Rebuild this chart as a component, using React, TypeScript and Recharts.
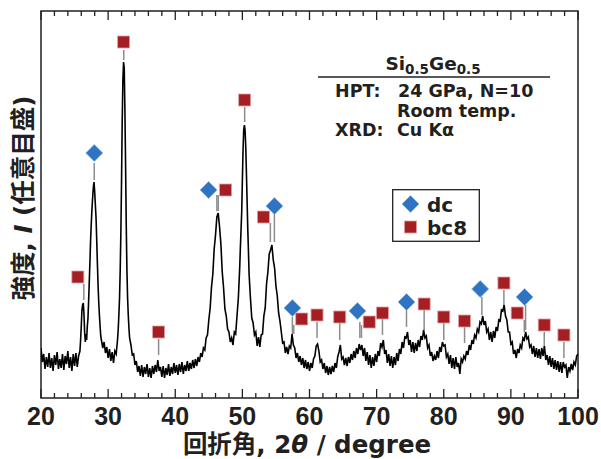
import React from 'react';
import {
  ComposedChart,
  Line,
  Scatter,
  XAxis,
  YAxis,
  ReferenceLine,
  ReferenceArea,
  Legend,
  Customized,
} from 'recharts';

const TICK_FONT = '"Liberation Sans", Arial, sans-serif';
const FONT = '"DejaVu Sans", "Noto Sans CJK JP", sans-serif';
const INK = '#231f20';
const RED = '#a51e24';
const BLUE = '#2f74c2';

// XRD scan: [2θ (deg), intensity (arb. units)]
const scan: [number, number][] = [
  [20.0, 50], [20.2, 36], [20.4, 44], [20.6, 29], [20.8, 41], [21.0, 31], [21.2, 45], [21.4, 30],
  [21.6, 40], [21.8, 27], [22.0, 43], [22.2, 33], [22.4, 46], [22.6, 29], [22.8, 39], [23.0, 30],
  [23.2, 44], [23.4, 28], [23.6, 42], [23.8, 34], [24.0, 47], [24.2, 30], [24.4, 41], [24.6, 27],
  [24.8, 44], [25.0, 32], [25.2, 45], [25.4, 31], [25.6, 42], [25.8, 47], [25.9, 58], [26.0, 72],
  [26.1, 88], [26.2, 93], [26.3, 95], [26.4, 84], [26.5, 66], [26.6, 56], [26.7, 64], [26.8, 58],
  [26.9, 72], [27.0, 80], [27.1, 98], [27.2, 118], [27.3, 138], [27.4, 160], [27.5, 176], [27.6, 190],
  [27.7, 201], [27.8, 211], [27.9, 216], [28.0, 206], [28.1, 193], [28.2, 180], [28.3, 158], [28.4, 135],
  [28.5, 113], [28.6, 96], [28.7, 83], [28.8, 72], [28.9, 62], [29.0, 58], [29.2, 50], [29.4, 56],
  [29.6, 45], [29.8, 51], [30.0, 40], [30.2, 49], [30.4, 37], [30.6, 46], [30.8, 35], [31.0, 47],
  [31.2, 44], [31.4, 58], [31.5, 68], [31.6, 83], [31.7, 100], [31.8, 128], [31.9, 166], [32.0, 218],
  [32.1, 278], [32.2, 318], [32.3, 336], [32.4, 330], [32.5, 288], [32.6, 233], [32.7, 173], [32.8, 128],
  [32.9, 100], [33.0, 83], [33.1, 70], [33.2, 60], [33.4, 53], [33.6, 43], [33.8, 44], [34.0, 33],
  [34.2, 37], [34.4, 26], [34.6, 32], [34.8, 22], [35.0, 33], [35.2, 21], [35.4, 31], [35.6, 24],
  [35.8, 34], [36.0, 21], [36.2, 30], [36.4, 20], [36.6, 32], [36.8, 24], [37.0, 33], [37.2, 26],
  [37.4, 38], [37.6, 27], [37.8, 31], [38.0, 21], [38.2, 32], [38.4, 20], [38.6, 30], [38.8, 23],
  [39.0, 34], [39.2, 22], [39.4, 31], [39.6, 24], [39.8, 35], [40.0, 25], [40.2, 33], [40.4, 23],
  [40.6, 34], [40.8, 26], [41.0, 36], [41.2, 24], [41.4, 33], [41.6, 27], [41.8, 37], [42.0, 27],
  [42.2, 35], [42.4, 29], [42.6, 38], [42.8, 30], [43.0, 39], [43.2, 32], [43.4, 41], [43.6, 36],
  [43.8, 45], [44.0, 41], [44.2, 50], [44.4, 48], [44.6, 60], [44.8, 63], [45.0, 78], [45.2, 90],
  [45.4, 111], [45.6, 124], [45.8, 149], [46.0, 163], [46.2, 181], [46.4, 185], [46.6, 171], [46.8, 154],
  [47.0, 126], [47.2, 110], [47.4, 89], [47.6, 82], [47.8, 69], [48.0, 66], [48.2, 56], [48.4, 60],
  [48.6, 53], [48.8, 66], [49.0, 64], [49.2, 82], [49.4, 100], [49.6, 130], [49.7, 150], [49.8, 168],
  [49.9, 186], [50.0, 218], [50.1, 248], [50.2, 268], [50.3, 273], [50.4, 268], [50.5, 252], [50.6, 226],
  [50.7, 198], [50.8, 170], [50.9, 148], [51.0, 124], [51.2, 100], [51.4, 80], [51.6, 75], [51.8, 63],
  [52.0, 66], [52.2, 52], [52.4, 61], [52.6, 51], [52.8, 63], [53.0, 64], [53.2, 82], [53.4, 90],
  [53.6, 114], [53.8, 126], [54.0, 144], [54.2, 148], [54.4, 153], [54.6, 138], [54.8, 130], [55.0, 112],
  [55.2, 102], [55.4, 85], [55.6, 77], [55.8, 66], [56.0, 55], [56.2, 56], [56.4, 45], [56.6, 51],
  [56.8, 44], [57.0, 52], [57.2, 50], [57.4, 64], [57.6, 53], [57.8, 50], [58.0, 40], [58.2, 45],
  [58.4, 36], [58.6, 42], [58.8, 33], [59.0, 40], [59.2, 30], [59.4, 38], [59.6, 29], [59.8, 36],
  [60.0, 27], [60.2, 35], [60.4, 30], [60.6, 39], [60.8, 42], [61.0, 52], [61.2, 54], [61.4, 47],
  [61.6, 36], [61.8, 38], [62.0, 29], [62.2, 35], [62.4, 25], [62.6, 32], [62.8, 23], [63.0, 31],
  [63.2, 24], [63.4, 32], [63.6, 26], [63.8, 35], [64.0, 30], [64.2, 41], [64.4, 46], [64.6, 53],
  [64.8, 39], [65.0, 41], [65.2, 33], [65.4, 40], [65.6, 32], [65.8, 41], [66.0, 35], [66.2, 44],
  [66.4, 38], [66.6, 47], [66.8, 40], [67.0, 50], [67.2, 44], [67.4, 54], [67.6, 48], [67.8, 53],
  [68.0, 42], [68.2, 50], [68.4, 37], [68.6, 46], [68.8, 33], [69.0, 43], [69.2, 30], [69.4, 41],
  [69.6, 32], [69.8, 44], [70.0, 36], [70.2, 47], [70.4, 42], [70.6, 55], [70.8, 51], [71.0, 58],
  [71.2, 44], [71.4, 48], [71.6, 35], [71.8, 44], [72.0, 32], [72.2, 42], [72.4, 30], [72.6, 41],
  [72.8, 33], [73.0, 45], [73.2, 37], [73.4, 49], [73.6, 44], [73.8, 56], [74.0, 50], [74.2, 61],
  [74.4, 60], [74.6, 66], [74.8, 53], [75.0, 58], [75.2, 46], [75.4, 56], [75.6, 45], [75.8, 55],
  [76.0, 47], [76.2, 58], [76.4, 51], [76.6, 62], [76.8, 58], [77.0, 68], [77.2, 60], [77.4, 62],
  [77.6, 50], [77.8, 53], [78.0, 42], [78.2, 46], [78.4, 37], [78.6, 42], [78.8, 38], [79.0, 47],
  [79.2, 40], [79.4, 51], [79.6, 46], [79.8, 56], [80.0, 52], [80.2, 53], [80.4, 41], [80.6, 44],
  [80.8, 34], [81.0, 43], [81.2, 30], [81.4, 40], [81.6, 29], [81.8, 41], [82.0, 31], [82.2, 35],
  [82.4, 24], [82.6, 39], [82.8, 36], [83.0, 42], [83.2, 39], [83.4, 47], [83.6, 43], [83.8, 53],
  [84.0, 48], [84.2, 58], [84.4, 54], [84.6, 63], [84.8, 60], [85.0, 69], [85.2, 66], [85.4, 76],
  [85.6, 74], [85.8, 82], [86.0, 73], [86.2, 77], [86.4, 66], [86.6, 69], [86.8, 58], [87.0, 66],
  [87.2, 56], [87.4, 67], [87.6, 60], [87.8, 71], [88.0, 67], [88.2, 78], [88.4, 77], [88.6, 88],
  [88.8, 87], [89.0, 93], [89.2, 82], [89.4, 78], [89.6, 66], [89.8, 66], [90.0, 54], [90.2, 56],
  [90.4, 44], [90.6, 48], [90.8, 40], [91.0, 49], [91.2, 45], [91.4, 53], [91.6, 50], [91.8, 60],
  [92.0, 58], [92.2, 66], [92.4, 59], [92.6, 61], [92.8, 51], [93.0, 53], [93.2, 44], [93.4, 52],
  [93.6, 41], [93.8, 50], [94.0, 40], [94.2, 49], [94.4, 39], [94.6, 50], [94.8, 42], [95.0, 52],
  [95.2, 38], [95.4, 43], [95.6, 33], [95.8, 42], [96.0, 31], [96.2, 40], [96.4, 29], [96.6, 38],
  [96.8, 28], [97.0, 37], [97.2, 26], [97.4, 36], [97.6, 25], [97.8, 36], [98.0, 31], [98.2, 33],
  [98.4, 20], [98.6, 31], [98.8, 27], [99.0, 34], [99.2, 28], [99.4, 36], [99.6, 33], [99.8, 42],
  [100.0, 44],
];

// x, y: where the symbol sits; at/top/bottom: the short guide line above the peak
const dcPeaks = [
  { x: 27.93, y: 245, at: 27.93, top: 235, bottom: 218 },
  { x: 44.97, y: 208, at: 46.2, top: 203, bottom: 187 },
  { x: 54.77, y: 192, at: 54.77, top: 185, bottom: 156 },
  { x: 57.45, y: 90, at: 57.45, top: 81, bottom: 64 },
  { x: 67.14, y: 87, at: 67.5, top: 76, bottom: 60 },
  { x: 74.45, y: 96, at: 74.45, top: 89, bottom: 71 },
  { x: 85.43, y: 109, at: 85.68, top: 101, bottom: 83 },
  { x: 92.04, y: 101, at: 92.19, top: 93, bottom: 68 },
];

const bc8Peaks = [
  { x: 25.49, y: 121, at: 26.38, top: 114, bottom: 98 },
  { x: 32.3, y: 356, at: 32.33, top: 348, bottom: 338 },
  { x: 37.52, y: 66, at: 37.52, top: 59, bottom: 43 },
  { x: 47.5, y: 208, at: 46.4, top: 203, bottom: 187 },
  { x: 50.34, y: 298, at: 50.34, top: 291, bottom: 276 },
  { x: 53.13, y: 181, at: 54.17, top: 175, bottom: 156 },
  { x: 58.84, y: 79, at: 57.65, top: 73, bottom: 64 },
  { x: 61.12, y: 83, at: 61.12, top: 76, bottom: 60 },
  { x: 64.5, y: 81, at: 64.5, top: 75, bottom: 58 },
  { x: 68.9, y: 76, at: 67.74, top: 73, bottom: 60 },
  { x: 70.87, y: 85, at: 70.87, top: 79, bottom: 63 },
  { x: 77.08, y: 94, at: 77.08, top: 88, bottom: 68 },
  { x: 80.0, y: 81, at: 80.0, top: 75, bottom: 58 },
  { x: 83.1, y: 77, at: 83.1, top: 71, bottom: 55 },
  { x: 88.96, y: 115, at: 88.96, top: 108, bottom: 91 },
  { x: 90.94, y: 85, at: 92.0, top: 78, bottom: 66 },
  { x: 94.97, y: 73, at: 94.97, top: 66, bottom: 50 },
  { x: 97.9, y: 63, at: 97.9, top: 56, bottom: 40 },
];

const xTicks = [
  20, 22, 24, 26, 28, 30, 32, 34, 36, 38, 40, 42, 44, 46, 48, 50, 52, 54, 56, 58, 60,
  62, 64, 66, 68, 70, 72, 74, 76, 78, 80, 82, 84, 86, 88, 90, 92, 94, 96, 98, 100,
];

const lineData = scan.map(([x, y]) => ({ x, y }));

const Diamond = ({ cx, cy }: any) => (
  <polygon
    points={`${cx},${cy - 8.5} ${cx + 8.5},${cy} ${cx},${cy + 8.5} ${cx - 8.5},${cy}`}
    fill={BLUE}
    stroke="#8fb4e0"
    strokeWidth={0.8}
  />
);

const Square = ({ cx, cy }: any) => (
  <rect x={cx - 6} y={cy - 6} width={12} height={12} fill={RED} stroke="#e0a0a0" strokeWidth={0.8} />
);

const BottomTick = ({ x, y, payload }: any) => {
  const major = payload.value % 10 === 0;
  return (
    <g>
      <line x1={x} x2={x} y1={y} y2={y - (major ? 9 : 5)} stroke={INK} strokeWidth={1.3} />
      {major && (
        <text x={x} y={y + 27} textAnchor="middle" fontFamily={TICK_FONT} fontWeight="bold" fontSize={25} fill={INK}>
          {payload.value}
        </text>
      )}
    </g>
  );
};

const TopTick = ({ x, y, payload }: any) => {
  const major = payload.value % 10 === 0;
  return <line x1={x} x2={x} y1={y} y2={y + (major ? 9 : 5)} stroke={INK} strokeWidth={1.3} />;
};

const LegendBox = () => (
  <svg width={88} height={53} style={{ display: 'block' }}>
    <rect x={0.7} y={0.7} width={86.6} height={51.6} fill="#fff" stroke={INK} strokeWidth={1.3} />
    <Diamond cx={18.5} cy={15} />
    <text x={35} y={23} fontFamily={FONT} fontWeight="bold" fontSize={20} fill={INK}>dc</text>
    <Square cx={18.5} cy={38} />
    <text x={35} y={46} fontFamily={FONT} fontWeight="bold" fontSize={20} fill={INK}>bc8</text>
  </svg>
);

const Notes = () => (
  <g fontFamily={FONT} fontWeight="bold" fill={INK}>
    <text x={433} y={70} textAnchor="middle" fontSize={18.5}>
      Si<tspan fontSize={13.5} dy={4}>0.5</tspan>
      <tspan dy={-4}>Ge</tspan>
      <tspan fontSize={13.5} dy={4}>0.5</tspan>
    </text>
    <line x1={318} x2={550} y1={77} y2={77} stroke={INK} strokeWidth={1.3} />
    <text x={335} y={97} fontSize={17.5}>HPT:</text>
    <text x={398} y={97} fontSize={17.5}>24 GPa, N=10</text>
    <text x={397} y={117} fontSize={17.5}>Room temp.</text>
    <text x={335} y={136} fontSize={17.5}>XRD:</text>
    <text x={397} y={136} fontSize={17.5}>Cu Kα</text>
    <text x={307} y={453} textAnchor="middle" fontSize={24.5}>
      回折角, 2<tspan fontStyle="italic">θ</tspan> / degree
    </text>
    <text transform="translate(32,198) rotate(-90)" textAnchor="middle" fontSize={24.5}>
      強度, <tspan fontStyle="italic">I</tspan> (任意目盛)
    </text>
  </g>
);

export default function App() {
  return (
    <div style={{ position: 'absolute', left: 0, top: 0, width: 601, height: 459, background: '#fff' }}>
      <ComposedChart width={601} height={459} margin={{ top: 10, right: 23, left: 41, bottom: 60 }}>
        <XAxis
          dataKey="x"
          type="number"
          domain={[20, 100]}
          ticks={xTicks}
          interval={0}
          height={1}
          axisLine={false}
          tickLine={false}
          tickSize={0}
          tickMargin={0}
          tick={<BottomTick />}
          allowDataOverflow
        />
        <XAxis
          xAxisId="top"
          orientation="top"
          dataKey="x"
          type="number"
          domain={[20, 100]}
          ticks={xTicks}
          interval={0}
          height={1}
          axisLine={false}
          tickLine={false}
          tickSize={0}
          tickMargin={0}
          tick={<TopTick />}
          allowDataOverflow
        />
        <YAxis dataKey="y" type="number" domain={[0, 387]} hide allowDataOverflow />
        {dcPeaks.concat(bc8Peaks).map((p, i) => (
          <ReferenceLine
            key={`guide-${i}`}
            segment={[{ x: p.at, y: p.top }, { x: p.at, y: p.bottom }]}
            stroke="#8c8c8c"
            strokeWidth={1.5}
          />
        ))}
        <Line
          data={lineData}
          dataKey="y"
          stroke="#000"
          strokeWidth={1.6}
          dot={false}
          isAnimationActive={false}
          legendType="none"
        />
        <Scatter name="dc" data={dcPeaks} shape={<Diamond />} isAnimationActive={false} />
        <Scatter name="bc8" data={bc8Peaks} shape={<Square />} isAnimationActive={false} />
        <ReferenceArea x1={20} x2={100} y1={0} y2={387} fill="none" stroke={INK} strokeWidth={1.5} />
        <Legend
          layout="horizontal"
          verticalAlign="middle"
          align="center"
          content={() => <LegendBox />}
          wrapperStyle={{ left: 392, top: 189, width: 88, height: 53 }}
        />
        <Customized component={Notes} />
      </ComposedChart>
    </div>
  );
}
